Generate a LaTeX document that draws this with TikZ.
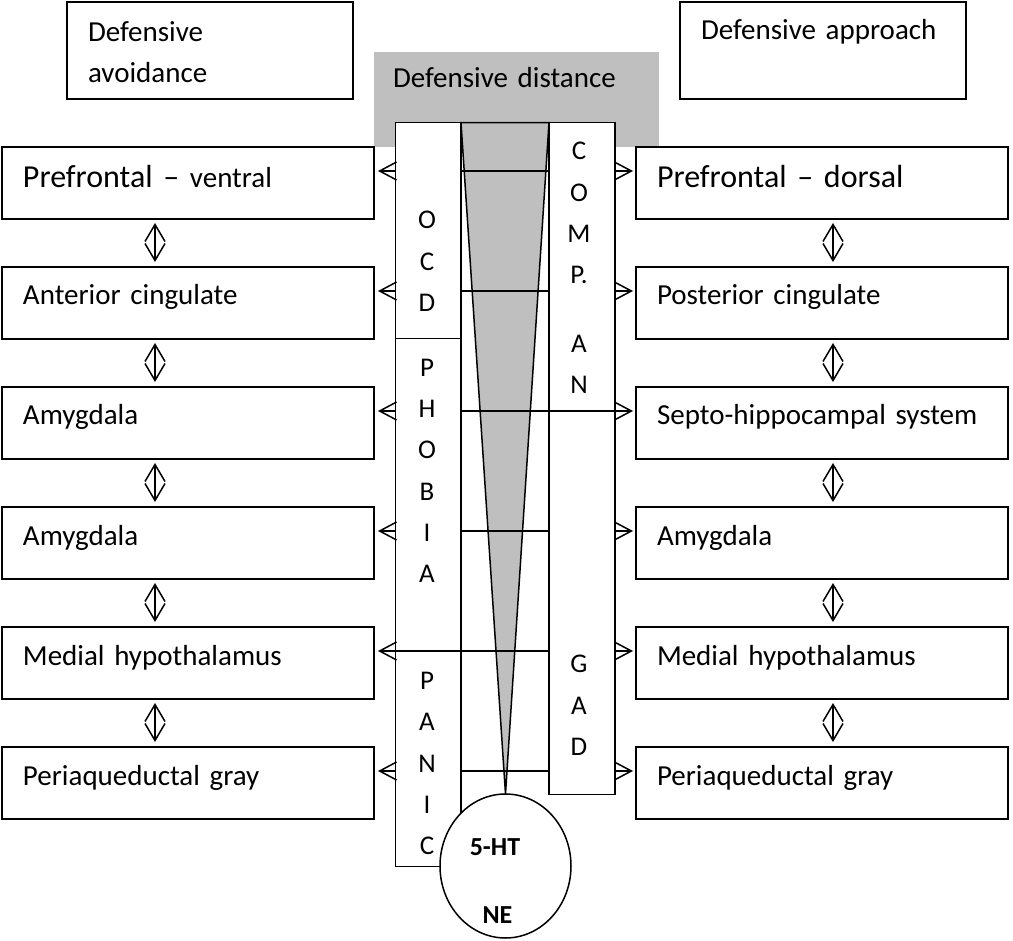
\documentclass[tikz,border=0pt]{standalone}
\usepackage{fontspec}
\setmainfont{Carlito}
\usetikzlibrary{arrows.meta,shapes.geometric,calc}
\definecolor{shade}{RGB}{191,191,191}
\begin{document}
\begin{tikzpicture}[x=1pt,y=-1pt,line width=1.5pt,
  every node/.style={inner sep=0pt, outer sep=0pt},
  rowbox/.style={draw, anchor=north west, minimum width=372pt, text width=330pt, inner xsep=21pt, align=left, font=\fontsize{29}{35}\selectfont, text height=38pt, text depth=34pt},
  bigrow/.style={rowbox, font=\fontsize{32}{38}\selectfont, text height=41pt, text depth=31pt},
  topbox/.style={draw, anchor=north west, minimum width=286pt, text width=244pt, inner xsep=21pt, align=left, font=\fontsize{29}{41.3}\selectfont},
  colbox/.style={draw, fill=white, anchor=north west, minimum width=65.3pt},
  letters/.style={align=center, font=\fontsize{27}{41.3}\selectfont},
  harr/.style={-{Straight Barb[length=17pt,width=18pt]}},
  varr/.style={{Straight Barb[length=17pt,width=20pt]}-{Straight Barb[length=17pt,width=20pt]}, shorten <=4pt, shorten >=5pt},
  bold/.style={font=\fontsize{26}{30}\selectfont\bfseries}
]
\useasboundingbox (0,0) rectangle (1013,941);

% grey header
\node[fill=shade, anchor=north west, minimum width=285pt, text width=247pt, inner xsep=19pt, align=left,
  font=\fontsize{29}{35}\selectfont, text height=36pt, text depth=59pt] (dd) at (374,52) {Defensive distance};

% top boxes
\node[topbox, text height=39.7pt, text depth=57.3pt] (av) at (67,2) {Defensive\\avoidance};
\node[topbox, minimum width=285pt, text height=38pt, text depth=59pt] (ap) at (680,2) {Defensive approach};

% left rows
\node[bigrow] (L1) at (2,147) {Prefrontal – {\fontsize{29}{35}\selectfont ventral}};
\node[rowbox] (L2) at (2,267) {Anterior cingulate};
\node[rowbox] (L3) at (2,387) {Amygdala};
\node[rowbox] (L4) at (2,507) {Amygdala};
\node[rowbox] (L5) at (2,627) {Medial hypothalamus};
\node[rowbox] (L6) at (2,747) {Periaqueductal gray};
% right rows
\node[bigrow] (R1) at (636,147) {Prefrontal – dorsal};
\node[rowbox] (R2) at (636,267) {Posterior cingulate};
\node[rowbox] (R3) at (636,387) {Septo-hippocampal system};
\node[rowbox] (R4) at (636,507) {Amygdala};
\node[rowbox] (R5) at (636,627) {Medial hypothalamus};
\node[rowbox] (R6) at (636,747) {Periaqueductal gray};

% vertical double arrows
\foreach \a/\b in {1/2,2/3,3/4,4/5,5/6}{
  \draw[varr] ([xshift=-33pt]L\a.south) -- ([xshift=-33pt]L\b.north);
  \draw[varr] ([xshift=11pt]R\a.south) -- ([xshift=11pt]R\b.north);
}

% columns
\node[colbox, minimum height=216pt] (ocd) at (395.7,122.7) {};
\node[colbox, minimum height=312.3pt] (phobia) at (395.7,338.7) {};
\node[colbox, minimum height=215.7pt] (panic) at (395.7,651) {};
\node[colbox, minimum width=66pt, minimum height=672pt] (comp) at (549,122.7) {};

% wedge
\coordinate (apex) at (505.5,794);
\filldraw[fill=shade] (ocd.north east) -- (comp.north west) -- (apex) -- cycle;

% row levels
\coordinate (y1) at (0,171);
\coordinate (y2) at (0,291);
\coordinate (y3) at (0,411);
\coordinate (y4) at (0,531);
\coordinate (y5) at (0,651);
\coordinate (y6) at (0,771);

% middle lines
\draw (ocd.east |- y1) -- (comp.west |- y1);
\draw (ocd.east |- y2) -- (comp.west |- y2);
\draw (phobia.east |- y4) -- (comp.west |- y4);
\draw (panic.east |- y6) -- (comp.west |- y6);

% left arrows
\draw[harr, shorten >=4pt] (ocd.west |- y1) -- (L1.east |- y1);
\draw[harr, shorten >=4pt] (ocd.west |- y2) -- (L2.east |- y2);
\draw[harr, shorten >=4pt] (phobia.west |- y3) -- (L3.east |- y3);
\draw[harr, shorten >=4pt] (phobia.west |- y4) -- (L4.east |- y4);
\draw[harr, shorten >=4pt] (comp.west |- y5) -- (L5.east |- y5);
\draw[harr, shorten >=4pt] (panic.west |- y6) -- (L6.east |- y6);
% right arrows
\draw[harr, shorten >=3pt] (comp.east |- y1) -- (R1.west |- y1);
\draw[harr, shorten >=3pt] (comp.east |- y2) -- (R2.west |- y2);
\draw[harr, shorten >=3pt] (phobia.east |- y3) -- (R3.west |- y3);
\draw[harr, shorten >=3pt] (comp.east |- y4) -- (R4.west |- y4);
\draw[harr, shorten >=3pt] (comp.east |- y5) -- (R5.west |- y5);
\draw[harr, shorten >=3pt] (comp.east |- y6) -- (R6.west |- y6);

% ellipse
\node[draw, fill=white, ellipse, minimum width=131pt, minimum height=144pt] (ht) at (505.5,866) {};
\node[bold] (t5) at (495,847) {5-HT};
\node[bold] (tne) at (497.5,915) {NE};

% column letters
\node[letters] (tocd) at (427,261.5) {O\\C\\D};
\node[letters] (tphobia) at (427,470.8) {P\\H\\O\\B\\I\\A};
\node[letters] (tpanic) at (427,763.7) {P\\A\\N\\I\\C};
\node[letters] (tcomp) at (579,267.9) {C\\O\\M\\P.\\[27pt]A\\N};
\node[letters] (tgad) at (579,705.5) {G\\A\\D};
\end{tikzpicture}
\end{document}
